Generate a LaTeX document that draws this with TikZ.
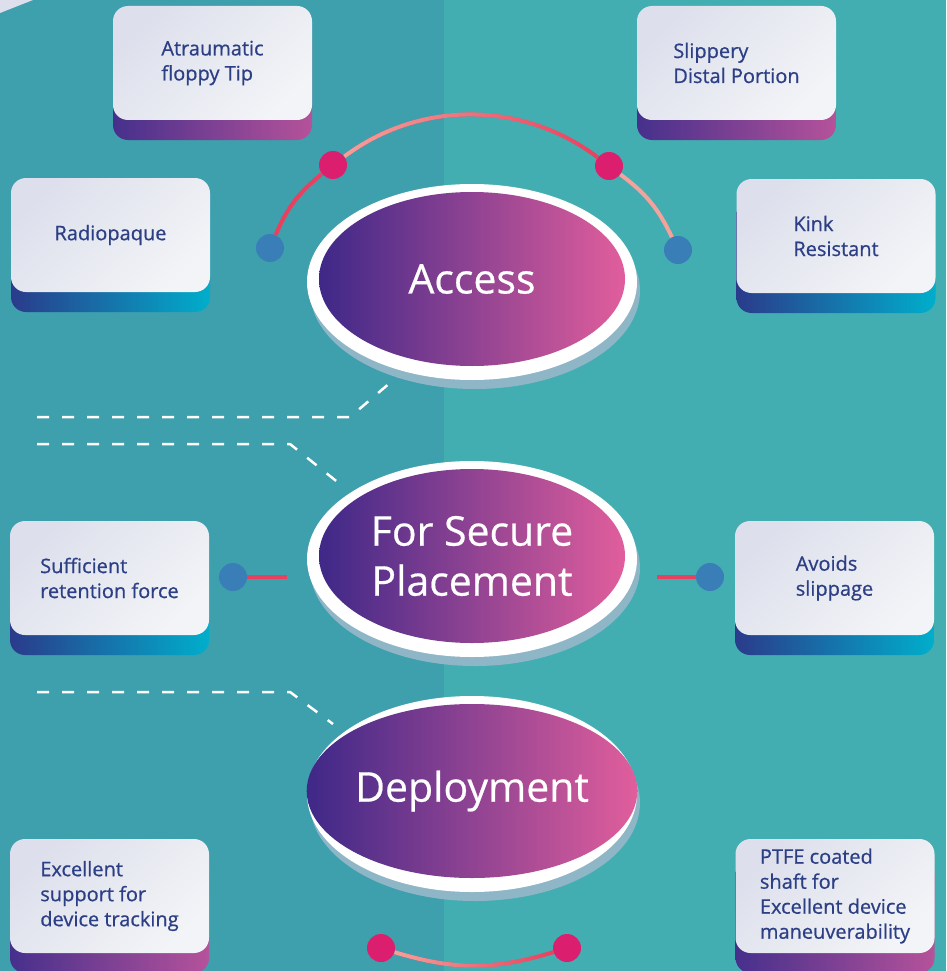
\documentclass[tikz,border=0pt]{standalone}
\usepackage{fontspec}
\setmainfont{Open Sans}
\newfontfamily\cardfont{Open Sans}[FakeBold=0.7]
\newfontfamily\stagefont{Open Sans}[FakeBold=0.5]
\usepackage{tikz}
\usetikzlibrary{shapes.geometric,shadows,fadings}

\definecolor{bgleft}{HTML}{3E9FAD}
\definecolor{bgright}{HTML}{43AEB1}
\definecolor{cardA}{HTML}{DDE0EC}
\definecolor{cardB}{HTML}{F3F4F7}
\definecolor{inkblue}{HTML}{2C3F85}
\definecolor{sideviolet}{HTML}{46308C}
\definecolor{sideorchid}{HTML}{B5529A}
\definecolor{sidenavy}{HTML}{2A3B8B}
\definecolor{sidecyan}{HTML}{00AECB}
\definecolor{stageL}{HTML}{3E2888}
\definecolor{stageR}{HTML}{E15E9C}
\definecolor{rimshade}{HTML}{8FB6C6}
\definecolor{dotpink}{HTML}{DB1F6E}
\definecolor{dotblue}{HTML}{3A7EB8}
\definecolor{linered}{HTML}{E8405E}
\definecolor{linesalmon}{HTML}{F4A29B}

\begin{document}
\begin{tikzpicture}[x=1pt,y=1pt,
  card/.style={rectangle,rounded corners=15pt,minimum width=199pt,minimum height=114pt,inner sep=0pt,
    top color=cardA,bottom color=cardB,shading angle=45,text=inkblue,align=left,
    font=\cardfont\fontsize{20}{25}\selectfont},
  cardbase/.style={rectangle,rounded corners=15pt,minimum width=199pt,minimum height=114pt,inner sep=0pt},
  purpleside/.style={left color=sideviolet,right color=sideorchid},
  blueside/.style={left color=sidenavy,right color=sidecyan},
  rim/.style={ellipse,fill=white,minimum width=330pt,minimum height=196pt,inner sep=0pt,
    drop shadow={fill=rimshade,opacity=1,shadow xshift=3pt,shadow yshift=-9pt}},
  stage/.style={ellipse,left color=stageL,right color=stageR,minimum width=306pt,minimum height=174pt,
    inner sep=0pt,text=white,align=center,font=\stagefont\fontsize{41}{50}\selectfont},
  pinkdot/.style={circle,fill=dotpink,minimum size=28pt,inner sep=0pt},
  bluedot/.style={circle,fill=dotblue,minimum size=28pt,inner sep=0pt},
  arcline/.style={line width=4pt},
  guide/.style={white,line width=2.5pt,dash pattern=on 12pt off 13pt}]

\useasboundingbox (0,0) rectangle (946,-971);
\fill[bgleft] (0,0) rectangle (444,-971);
\fill[bgright] (444,0) rectangle (946,-971);
\fill[cardA] (0,0) -- (33,0) -- (0,-13) -- cycle;

% guide lines
\coordinate (g1a) at (37,-417);
\coordinate (g1b) at (350,-417);
\coordinate (g1c) at (398,-376);
\coordinate (g2a) at (37,-444);
\coordinate (g2b) at (290,-444);
\coordinate (g2c) at (345,-488);
\coordinate (g3a) at (37,-692);
\coordinate (g3b) at (290,-692);
\coordinate (g3c) at (333,-724);
\draw[guide] (g1a) -- (g1b) -- (g1c);
\draw[guide] (g2a) -- (g2b) -- (g2c);
\draw[guide] (g3a) -- (g3b) -- (g3c);

% stages
\node[rim] (accrim) at (472,-282) {};
\node[stage] (acc) at (472,-279) {Access};
\node[rim] (secrim) at (472,-559) {};
\node[stage] (sec) at (472,-556) {For Secure\\Placement};
\node[rim] (deprim) at (472,-794) {};
\node[stage] (dep) at (472,-791) {Deployment};

% cards
\node[cardbase,purpleside] (tipbase) at (212.5,-83) {};
\node[card] (tip) at (212.5,-63) {Atraumatic\\floppy Tip};
\node[cardbase,purpleside] (slipbase) at (736.5,-83) {};
\node[card] (slip) at (736.5,-63) {Slippery\\Distal Portion};
\node[cardbase,blueside] (radiobase) at (110.5,-255) {};
\node[card] (radio) at (110.5,-235) {Radiopaque};
\node[cardbase,blueside] (kinkbase) at (836,-256) {};
\node[card] (kink) at (836,-236) {Kink\\Resistant};
\node[cardbase,blueside] (retainbase) at (109.5,-598) {};
\node[card] (retain) at (109.5,-578) {Sufficient\\retention force};
\node[cardbase,blueside] (avoidbase) at (834.5,-598) {};
\node[card] (avoid) at (834.5,-578) {Avoids\\slippage};
\node[cardbase,purpleside] (trackbase) at (109.5,-916) {};
\node[card] (track) at (109.5,-896) {Excellent\\support for\\device tracking};
\node[cardbase,purpleside] (ptfebase) at (835,-916) {};
\node[card] (ptfe) at (835,-896) {PTFE coated\\shaft for\\Excellent device\\maneuverability};

% dots and arcs
\node[bluedot] (accL) at (270,-248) {};
\node[pinkdot] (accTL) at (333,-165) {};
\node[pinkdot] (accTR) at (609,-166) {};
\node[bluedot] (accR) at (678,-250) {};
\draw[arcline,linered] (accL) to[bend left=14] (accTL);
\draw[arcline,linered] (accTL) to[bend left=37,looseness=0.95] (accTR);
\draw[arcline,linesalmon,path fading=east] (accTL) to[bend left=37,looseness=0.95] (accTR);
\draw[arcline,linesalmon] (accTR) to[bend left=14] (accR);

\node[bluedot] (secL) at (233,-577) {};
\coordinate (secLend) at (287,-577);
\draw[arcline,linered] (secL) -- (secLend);
\node[bluedot] (secR) at (710,-577) {};
\coordinate (secRend) at (657,-577);
\draw[arcline,linered] (secRend) -- (secR);

\node[pinkdot] (depL) at (381,-948) {};
\node[pinkdot] (depR) at (567,-948) {};
\draw[arcline,linered] (depL) to[bend right=17] (depR);
\draw[arcline,linesalmon,path fading=east] (depL) to[bend right=17] (depR);
\end{tikzpicture}
\end{document}
